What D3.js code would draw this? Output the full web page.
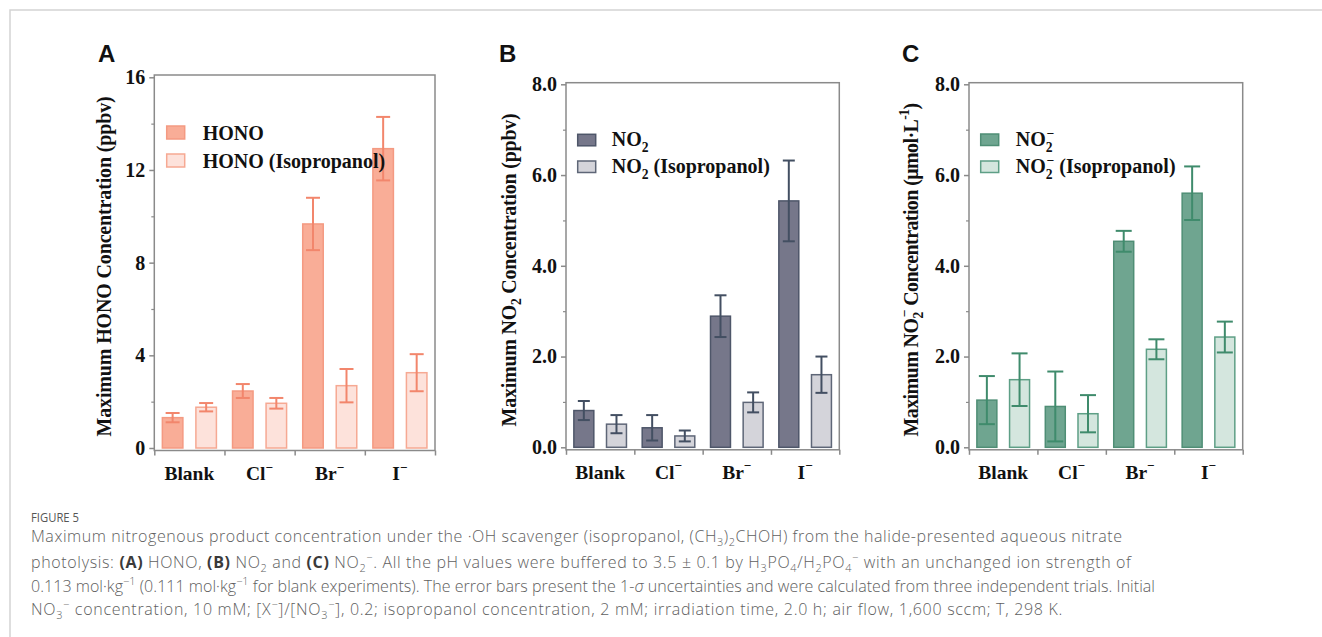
<!DOCTYPE html>
<html><head><meta charset="utf-8">
<script src="https://cdn.jsdelivr.net/npm/d3@7"></script>
<style>body{margin:0;background:#fff;} svg{display:block;}</style>
</head><body>
<svg id="c" width="1322" height="637"></svg>
<script>
// ---------------- data ----------------
const categories = ["Blank", "Cl", "Br", "I"];
const categorySup = ["", "−", "−", "−"];
const seriesKeys = ["base", "iso"];

const honoValues = [1.31, 2.46, 9.67, 12.92];
const honoErrors = [0.20, 0.30, 1.13, 1.37];
const honoIsoValues = [1.76, 1.93, 2.69, 3.25];
const honoIsoErrors = [0.18, 0.23, 0.72, 0.80];

const no2Values = [0.81, 0.43, 2.89, 5.43];
const no2Errors = [0.21, 0.28, 0.46, 0.89];
const no2IsoValues = [0.51, 0.25, 0.99, 1.60];
const no2IsoErrors = [0.20, 0.12, 0.22, 0.40];

const nitriteValues = [1.04, 0.90, 4.54, 5.60];
const nitriteErrors = [0.53, 0.77, 0.23, 0.59];
const nitriteIsoValues = [1.49, 0.74, 2.16, 2.43];
const nitriteIsoErrors = [0.58, 0.41, 0.22, 0.34];

const honoTicks = [0, 4, 8, 12, 16];
const honoMinorTicks = [2, 6, 10, 14];
const no2Ticks = [0, 2, 4, 6, 8];
const no2MinorTicks = [1, 3, 5, 7];

// ---------------- helpers ----------------
const svg = d3.select("#c");
const serif = "'Liberation Serif','Times New Roman',serif";
const axisColor = "#8a8a8a";

function rich(t, segs, fs) {
  let off = 0;
  segs.forEach(s => {
    const ts = t.append("tspan").text(s.t);
    let target = 0, size = fs;
    if (s.sub) { target = fs * 0.28; size = fs * 0.68; }
    if (s.sup) { target = -fs * 0.42; size = fs * 0.68; }
    let dy = target - off;
    if (dy !== 0) ts.attr("dy", dy);
    off = target;
    if (size !== fs) ts.attr("font-size", size);
    if (s.dx) ts.attr("dx", s.dx * fs);
    if (s.b) ts.attr("font-weight", "bold");
    if (s.i) ts.attr("font-style", "italic");
    if (s.fill) ts.attr("fill", s.fill);
  });
  return t;
}

// page frame
svg.append("path").attr("d", "M1322,10H10V637").attr("fill", "none")
  .attr("stroke", "#d4d4d4").attr("stroke-width", 1.5);

const panels = [
  {
    letter: "A", letterX: 98, left: 154.3, right: 435, frameTop: 75, y0: 448, yMaxPx: 77.3, max: 16,
    ticks: honoTicks, minor: honoMinorTicks, fmt: d3.format("d"),
    series: [
      { v: honoValues, e: honoErrors, fill: "#f9ad97", stroke: "#f49a82" },
      { v: honoIsoValues, e: honoIsoErrors, fill: "#fde2db", stroke: "#f6a993" }
    ],
    errColor: "#f2866c", cap: 14,
    ylabel: [{ t: "Maximum HONO Concentration (ppbv)" }], ylabelX: 111, ylabelLen: 340,
    legend: [[{ t: "HONO" }], [{ t: "HONO (Isopropanol)" }]],
    legX: 166.7, legY: 126, legH: 13, legStep: 28, legTextX: 202.7,
    labelY: 480
  },
  {
    letter: "B", letterX: 499, left: 566, right: 839.3, frameTop: 82.7, y0: 447.3, yMaxPx: 84.3, max: 8,
    ticks: no2Ticks, minor: no2MinorTicks, fmt: d3.format(".1f"),
    series: [
      { v: no2Values, e: no2Errors, fill: "#76778a", stroke: "#4e5669" },
      { v: no2IsoValues, e: no2IsoErrors, fill: "#d4d4da", stroke: "#5e6677" }
    ],
    errColor: "#434f62", cap: 12,
    ylabel: [{ t: "Maximum NO" }, { t: "2", sub: 1 }, { t: " Concentration (ppbv)" }], ylabelX: 515.5, ylabelLen: 313,
    legend: [[{ t: "NO" }, { t: "2", sub: 1 }], [{ t: "NO" }, { t: "2", sub: 1 }, { t: " (Isopropanol)" }]],
    legX: 577.7, legY: 134.3, legH: 11.5, legStep: 26.7, legTextX: 611.7,
    labelY: 478.5
  },
  {
    letter: "C", letterX: 902, left: 969, right: 1242.7, frameTop: 82.7, y0: 447.3, yMaxPx: 84.3, max: 8,
    ticks: no2Ticks, minor: no2MinorTicks, fmt: d3.format(".1f"),
    series: [
      { v: nitriteValues, e: nitriteErrors, fill: "#6fa590", stroke: "#4f8e75" },
      { v: nitriteIsoValues, e: nitriteIsoErrors, fill: "#d4e6de", stroke: "#5e9f86" }
    ],
    errColor: "#3f8b6c", cap: 16,
    ylabel: [{ t: "Maximum NO" }, { t: "2", sub: 1 }, { t: "−", sup: 1, dx: -0.25 }, { t: " Concentration (μmol·L" }, { t: "-1", sup: 1 }, { t: ")" }], ylabelX: 917.5, ylabelLen: 338,
    legend: [[{ t: "NO" }, { t: "2", sub: 1 }, { t: "−", sup: 1, dx: -0.3 }],
             [{ t: "NO" }, { t: "2", sub: 1 }, { t: "−", sup: 1, dx: -0.3 }, { t: " (Isopropanol)" }]],
    legX: 980.7, legY: 134, legH: 11.5, legStep: 27, legTextX: 1015.7,
    labelY: 478.5
  }
];

function fit(sel, target) {
  const n = sel.node();
  const w = n.getComputedTextLength();
  const cnt = n.textContent.length;
  sel.attr("letter-spacing", (target - w) / cnt);
}

panels.forEach(p => {
  const g = svg.append("g");
  const x = d3.scaleBand().domain(categories).range([p.left, p.right]).padding(0);
  const xs = d3.scaleBand().domain(seriesKeys).range([0, x.bandwidth()]).paddingInner(0.343).paddingOuter(0.218);
  const y = d3.scaleLinear().domain([0, p.max]).range([p.y0, p.yMaxPx]);
  const bottomLine = p.y0 + 2.5;

  // panel letter
  g.append("text").attr("x", p.letterX).attr("y", 62).text(p.letter)
    .attr("font-family", "'Liberation Sans',Arial,sans-serif").attr("font-weight", "bold")
    .attr("font-size", 24).attr("fill", "#111");

  // bars + error bars
  p.series.forEach((s, si) => {
    const key = seriesKeys[si];
    const data = categories.map((c, i) => ({ c, v: s.v[i], e: s.e[i] }));
    const bg = g.append("g");
    bg.selectAll("rect").data(data).join("rect")
      .attr("x", d => x(d.c) + xs(key) + 0.75)
      .attr("width", xs.bandwidth() - 1.5)
      .attr("y", d => y(d.v))
      .attr("height", d => y(0) - y(d.v))
      .attr("fill", s.fill).attr("stroke", s.stroke).attr("stroke-width", 1.5);
    const cx = d => x(d.c) + xs(key) + xs.bandwidth() / 2;
    const eg = g.append("g").attr("stroke", p.errColor).attr("stroke-width", 2).attr("fill", "none");
    eg.selectAll("line.v").data(data).join("line").attr("class", "v")
      .attr("x1", cx).attr("x2", cx).attr("y1", d => y(d.v + d.e)).attr("y2", d => y(d.v - d.e));
    eg.selectAll("line.t").data(data).join("line").attr("class", "t")
      .attr("x1", d => cx(d) - p.cap / 2).attr("x2", d => cx(d) + p.cap / 2)
      .attr("y1", d => y(d.v + d.e)).attr("y2", d => y(d.v + d.e));
    eg.selectAll("line.b").data(data).join("line").attr("class", "b")
      .attr("x1", d => cx(d) - p.cap / 2).attr("x2", d => cx(d) + p.cap / 2)
      .attr("y1", d => y(d.v - d.e)).attr("y2", d => y(d.v - d.e));
  });

  // frame
  g.append("rect").attr("x", p.left).attr("y", p.frameTop)
    .attr("width", p.right - p.left).attr("height", bottomLine - p.frameTop)
    .attr("fill", "none").attr("stroke", axisColor).attr("stroke-width", 1.5);

  // y axis major
  const ya = g.append("g").attr("transform", `translate(${p.left},0)`)
    .call(d3.axisLeft(y).tickValues(p.ticks).tickSize(5).tickPadding(4).tickFormat(p.fmt));
  ya.select(".domain").remove();
  ya.selectAll("line").attr("stroke", axisColor).attr("stroke-width", 1.5);
  ya.selectAll("text").attr("font-family", serif).attr("font-weight", "bold")
    .attr("font-size", 20).attr("fill", "#111");
  // y axis minor
  const ym = g.append("g").attr("transform", `translate(${p.left},0)`)
    .call(d3.axisLeft(y).tickValues(p.minor).tickSize(3).tickFormat(""));
  ym.select(".domain").remove();
  ym.selectAll("line").attr("stroke", axisColor).attr("stroke-width", 1.2);

  // x separators
  const xl = d3.scaleLinear().domain([0, categories.length]).range([p.left, p.right]);
  const xa = g.append("g").attr("transform", `translate(0,${bottomLine})`)
    .call(d3.axisBottom(xl).tickValues(d3.range(categories.length + 1)).tickSize(5).tickFormat(""));
  xa.select(".domain").remove();
  xa.selectAll("line").attr("stroke", axisColor).attr("stroke-width", 1.5);

  // category labels
  categories.forEach((c, i) => {
    const t = g.append("text").attr("x", x(c) + x.bandwidth() / 2).attr("y", p.labelY)
      .attr("text-anchor", "middle").attr("font-family", serif).attr("font-weight", "bold")
      .attr("font-size", 19.5).attr("fill", "#111");
    const segs = [{ t: c }];
    if (categorySup[i]) segs.push({ t: categorySup[i], sup: 1 });
    rich(t, segs, 19.5);
  });

  // y label
  const yl = g.append("text")
    .attr("transform", `translate(${p.ylabelX},${(p.frameTop + p.y0) / 2 + 5}) rotate(-90)`)
    .attr("text-anchor", "middle").attr("font-family", serif).attr("font-weight", "bold")
    .attr("font-size", 20).attr("fill", "#111");
  rich(yl, p.ylabel, 20);
  fit(yl, p.ylabelLen);

  // legend
  p.legend.forEach((segs, li) => {
    const s = p.series[li];
    const yy = p.legY + li * p.legStep;
    g.append("rect").attr("x", p.legX).attr("y", yy).attr("width", 18).attr("height", p.legH)
      .attr("fill", s.fill).attr("stroke", s.stroke).attr("stroke-width", 1.5);
    const t = g.append("text").attr("x", p.legTextX).attr("y", yy + p.legH + 0.5)
      .attr("font-family", serif).attr("font-weight", "bold").attr("font-size", 20).attr("fill", "#111");
    rich(t, segs, 20);
  });
});

// ---------------- caption ----------------
const capFont = "'Open Sans',Lato,sans-serif";
const capColor = "#606060";
const boldCol = "#3a3a3a";
svg.append("text").attr("x", 31).attr("y", 521.5).text("FIGURE 5")
  .attr("font-family", capFont).attr("font-size", 13.5).attr("fill", "#555")
  .attr("textLength", 48).attr("lengthAdjust", "spacingAndGlyphs");

const captionLines = [
  [{ t: "Maximum nitrogenous product concentration under the ·OH scavenger (isopropanol, (CH" }, { t: "3", sub: 1 }, { t: ")" }, { t: "2", sub: 1 }, { t: "CHOH) from the halide-presented aqueous nitrate" }],
  [{ t: "photolysis: " }, { t: "(A)", b: 1, fill: boldCol }, { t: " HONO, " }, { t: "(B)", b: 1, fill: boldCol }, { t: " NO" }, { t: "2", sub: 1 }, { t: " and " }, { t: "(C)", b: 1, fill: boldCol }, { t: " NO" }, { t: "2", sub: 1 }, { t: "−", sup: 1 }, { t: ". All the pH values were buffered to 3.5 ± 0.1 by H" }, { t: "3", sub: 1 }, { t: "PO" }, { t: "4", sub: 1 }, { t: "/H" }, { t: "2", sub: 1 }, { t: "PO" }, { t: "4", sub: 1 }, { t: "−", sup: 1 }, { t: " with an unchanged ion strength of" }],
  [{ t: "0.113 mol·kg" }, { t: "−1", sup: 1 }, { t: " (0.111 mol·kg" }, { t: "−1", sup: 1 }, { t: " for blank experiments). The error bars present the 1-" }, { t: "σ", i: 1 }, { t: " uncertainties and were calculated from three independent trials. Initial" }],
  [{ t: "NO" }, { t: "3", sub: 1 }, { t: "−", sup: 1 }, { t: " concentration, 10 mM; [X" }, { t: "−", sup: 1 }, { t: "]/[NO" }, { t: "3", sub: 1 }, { t: "−", sup: 1 }, { t: "], 0.2; isopropanol concentration, 2 mM; irradiation time, 2.0 h; air flow, 1,600 sccm; T, 298 K." }]
];
const captionBaselines = [542, 567.5, 591.5, 615];
const captionRight = [1122.5, 1131.5, 1155, 1063];

captionLines.forEach((segs, i) => {
  const t = svg.append("text").attr("x", 31).attr("y", captionBaselines[i])
    .attr("font-family", capFont).attr("font-weight", 300).attr("font-size", 16).attr("fill", capColor);
  rich(t, segs, 16);
  fit(t, captionRight[i] - 31);
});
</script>
</body></html>
